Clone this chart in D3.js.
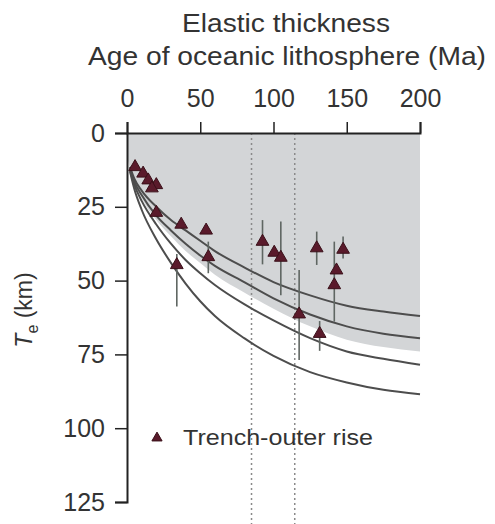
<!DOCTYPE html>
<html>
<head>
<meta charset="utf-8">
<script src="https://cdn.jsdelivr.net/npm/d3@7"></script>
<style>
  body { margin: 0; background: #fff; }
  svg text { font-family: "Liberation Sans", Arial, sans-serif; fill: #333; }
</style>
</head>
<body>
<svg id="canvas"></svg>
<script>
// Te vs age of oceanic lithosphere, trench-outer rise estimates

let width = 495;
let height = 524;

// model curves, sampled by age (Ma)
const curveAges = [2, 5, 10, 20, 30, 40, 50, 60, 80, 100, 125, 150, 175, 200];
const curve1 = [11.5, 15.5, 19.5, 25, 29.5, 33, 36.5, 40, 45.5, 50.5, 55, 58.5, 60.5, 62];
const curve2 = [12, 16.5, 21, 28, 33, 37.5, 41.5, 45, 50.5, 56, 61.5, 65.5, 68, 69.5];
const curve3 = [12.5, 17.5, 23, 31, 37.5, 43, 47.5, 51.5, 58, 63.5, 69.5, 74, 76.5, 78.5];
const curve4 = [13, 19, 26, 36, 44, 51, 57, 62, 69.5, 75.5, 81, 84.5, 87, 88.5];

// lower edge of the grey band
const bandAges = [0, 2, 10, 20, 30, 40, 50, 60, 80, 100, 125, 150, 175, 200];
const bandTe = [8, 12, 22, 29.5, 35, 40, 44, 48, 54, 59.5, 65.5, 70, 72.5, 74];

// trench-outer rise observations
const ptAge = [5.5, 11, 14.5, 20, 17, 20, 37, 54, 34, 55.5, 92.5, 100.5, 105, 117.5, 131.5, 129.5, 147.5, 143, 141.5];
const ptTe = [11.5, 13.7, 16, 17.6, 18.7, 27, 31, 33, 44.7, 42, 36.8, 40.5, 42.2, 61.4, 68, 39, 39.5, 46.5, 51.5];
const errTop = [null, null, null, null, null, null, null, null, 41, 36.8, 29.5, null, 30, 46.4, 63.7, 33.4, 35.1, null, 36.8];
const errBot = [null, null, null, null, null, null, null, null, 58.8, 47.5, 44.5, null, 55, 76.9, 73.8, 44.7, 42.5, null, 63.9];

// dotted reference ages
const refAges = [85, 114.5];

const xTicks = [0, 50, 100, 150, 200];
const yTicks = [0, 25, 50, 75, 100, 125];

const canvas = d3.select('#canvas').attr('width', width).attr('height', height);

const x = d3.scaleLinear().domain([0, 200]).range([127, 420]);
const y = d3.scaleLinear().domain([0, 125]).range([133, 502]);

// grey band
const band = bandAges.map((a, i) => [a, bandTe[i]]);
canvas.append('path')
    .datum(band)
    .attr('d', d3.area()
        .x((d) => x(d[0]))
        .y0(y(0))
        .y1((d) => y(d[1]))
        .curve(d3.curveMonotoneX))
    .attr('fill', '#d3d5d7');

// dotted verticals
canvas.selectAll('.ref')
    .data(refAges)
    .enter()
    .append('line')
    .attr('x1', (d) => x(d))
    .attr('x2', (d) => x(d))
    .attr('y1', y(0))
    .attr('y2', height)
    .attr('stroke', '#8a8a8a')
    .attr('stroke-width', 1.5)
    .attr('stroke-dasharray', '2,3');

// model curves
const line = d3.line()
    .x((d) => x(d[0]))
    .y((d) => y(d[1]))
    .curve(d3.curveMonotoneX);

[curve1, curve2, curve3, curve4].forEach((c) => {
    canvas.append('path')
        .datum(curveAges.map((a, i) => [a, c[i]]))
        .attr('d', line)
        .attr('fill', 'none')
        .attr('stroke', '#4d4d4d')
        .attr('stroke-width', 2);
});

// error bars
ptAge.forEach((a, i) => {
    if (errTop[i] === null) return;
    canvas.append('line')
        .attr('x1', x(a))
        .attr('x2', x(a))
        .attr('y1', y(errTop[i]))
        .attr('y2', y(errBot[i]))
        .attr('stroke', '#5f6662')
        .attr('stroke-width', 1.6);
});

// triangles
const tri = d3.symbol().type(d3.symbolTriangle).size(70);
canvas.selectAll('.pt')
    .data(ptAge)
    .enter()
    .append('path')
    .attr('d', tri)
    .attr('transform', (d, i) => `translate(${x(d)},${y(ptTe[i])})`)
    .attr('fill', '#5a1a2b')
    .attr('stroke', '#3a1019')
    .attr('stroke-width', 1);

// axes
const topAxis = canvas.append('g').attr('transform', `translate(0,${y(0)})`)
    .call(d3.axisTop(x).tickValues(xTicks).tickSize(11).tickPadding(15));
const leftAxis = canvas.append('g').attr('transform', `translate(${x(0)},0)`)
    .call(d3.axisLeft(y).tickValues(yTicks).tickSize(12).tickPadding(10));

[topAxis, leftAxis].forEach((g) => {
    g.select('.domain').attr('stroke', '#222').attr('stroke-width', 2);
    g.selectAll('.tick line').attr('stroke', '#222').attr('stroke-width', 1.5);
    g.selectAll('.tick text')
        .style('font-size', '25px')
        .style('font-family', '"Liberation Sans", Arial, sans-serif')
        .attr('fill', '#333');
});

// titles
canvas.append('text')
    .attr('x', 286).attr('y', 32)
    .attr('text-anchor', 'middle')
    .attr('textLength', 208)
    .attr('lengthAdjust', 'spacingAndGlyphs')
    .style('font-size', '25px')
    .text('Elastic thickness');
canvas.append('text')
    .attr('x', 287).attr('y', 65)
    .attr('text-anchor', 'middle')
    .attr('textLength', 398)
    .attr('lengthAdjust', 'spacingAndGlyphs')
    .style('font-size', '25px')
    .text('Age of oceanic lithosphere (Ma)');

// y label
const yl = canvas.append('text')
    .attr('transform', 'translate(32,310) rotate(-90)')
    .attr('text-anchor', 'middle')
    .style('font-size', '23px');
yl.append('tspan').style('font-style', 'italic').text('T');
yl.append('tspan').attr('dy', 6).style('font-size', '16px').text('e');
yl.append('tspan').attr('dy', -6).text(' (km)');

// legend
canvas.append('path')
    .attr('d', d3.symbol().type(d3.symbolTriangle).size(45))
    .attr('transform', `translate(157,438)`)
    .attr('fill', '#5a1a2b')
    .attr('stroke', '#3a1019');
canvas.append('text')
    .attr('x', 183).attr('y', 445)
    .attr('textLength', 190)
    .attr('lengthAdjust', 'spacingAndGlyphs')
    .style('font-size', '22px')
    .text('Trench-outer rise');
</script>
</body>
</html>
